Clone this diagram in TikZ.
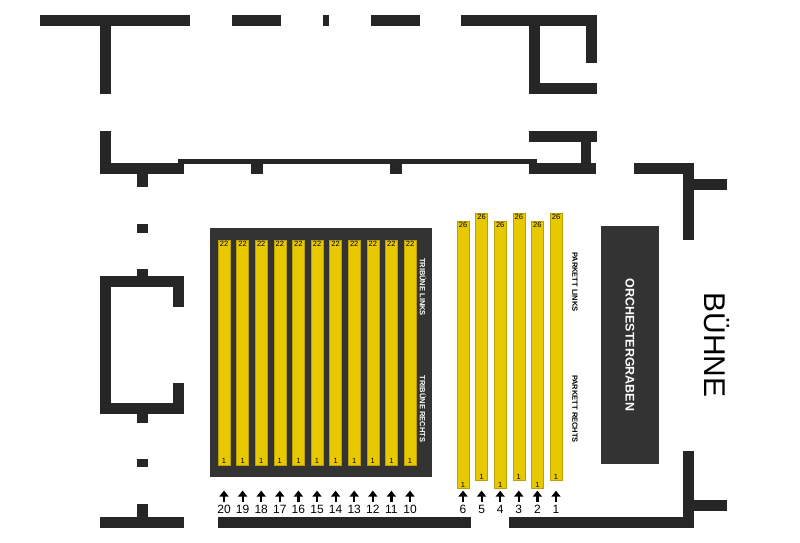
\documentclass[tikz,border=0pt]{standalone}
\usepackage{fontspec}
\setmainfont{Liberation Sans}
\usetikzlibrary{arrows.meta}
\definecolor{wallgray}{HTML}{262626}
\definecolor{boxgray}{HTML}{333333}
\definecolor{seatyellow}{HTML}{E8C800}
\tikzset{
  wall/.style={fill=wallgray},
  seatrow/.style={fill=seatyellow, draw=seatyellow!80!black, line width=0.3pt, minimum width=12pt, inner sep=0pt},
  seatno/.style={font=\fontsize{7.5}{8}\selectfont, inner sep=1pt},
  rownum/.style={font=\fontsize{12}{12}\selectfont, inner sep=0pt},
  sectlabel/.style={font=\bfseries\fontsize{7.5}{8}\selectfont, rotate=-90, inner sep=0pt},
  rowarrow/.style={-{Triangle[length=6pt,width=9pt]}, line width=2.2pt}
}
\begin{document}
\begin{tikzpicture}[x=1pt,y=-1pt]

  \useasboundingbox (0,0) rectangle (800,542);

  % walls
  \foreach \xa/\ya/\xb/\yb in {40/15/190/26, 100/26/111/94, 232/15/281/26, 323/15/329/26,
      371/15/420/26, 461/15/597/26, 529/26/540/94, 586/26/597/63, 529/83/597/94,
      100/131/111/174, 100/163/184/174, 137/174/148/187, 178/159/537/164,
      251/163/263/174, 390/163/402/174,
      529/131/597/142, 581/142/591/163, 529/163/596/174,
      634/163/694/174, 683/163/694/240, 694/179/727/190,
      683/451/694/528, 694/500/727/511,
      137/224/148/233, 137/269/148/276, 100/276/184/287, 100/287/111/414,
      173/287/184/307, 173/383/184/414, 100/403/184/414, 137/414/148/423,
      137/459/148/467, 137/504/148/517, 100/517/184/528,
      218/517/471/528, 509/517/694/528}
    \fill[wall] (\xa,\ya) rectangle (\xb,\yb);

  % tribuene
  \fill[boxgray] (210,228) rectangle (432,477);
  \foreach \r [count=\i from 0] in {20,19,...,10} {
    \node[seatrow, minimum height=225pt] (r\r) at ({224+18.6*\i},352.5) {};
    \node[seatno, below] at (r\r.north) {22};
    \node[seatno, above] at (r\r.south) {1};
    \node[rownum] (n\r) at (r\r|-0,509) {\r};
    \draw[rowarrow] (n\r.north) ++(0,-3) -- ++(0,-11);
  }
  \node[sectlabel, white] (tl) at (423,287) {TRIBÜNE LINKS};
  \node[sectlabel, white] (tr) at (423,409) {TRIBÜNE RECHTS};

  % parkett
  \foreach \r/\y [count=\i from 0] in {6/221, 5/213, 4/221, 3/213, 2/221, 1/213} {
    \node[seatrow, minimum height=267pt, anchor=north] (p\r) at ({463+18.6*\i},\y) {};
    \node[seatno, below] at (p\r.north) {26};
    \node[seatno, above] at (p\r.south) {1};
    \node[rownum] (m\r) at (p\r|-0,509) {\r};
    \draw[rowarrow] (m\r.north) ++(0,-3) -- ++(0,-11);
  }
  \node[sectlabel] (pl) at (575,282) {PARKETT LINKS};
  \node[sectlabel] (pr) at (575,409) {PARKETT RECHTS};

  % orchestergraben und buehne
  \node[fill=boxgray, minimum width=58pt, minimum height=238pt] (og) at (630,345) {};
  \node[sectlabel, white, font=\bfseries\fontsize{12.5}{13}\selectfont] at (og) {ORCHESTERGRABEN};
  \node[rotate=-90, font=\fontsize{30}{30}\selectfont, inner sep=0pt] (bu) at (717,345) {BÜHNE};

\end{tikzpicture}
\end{document}
